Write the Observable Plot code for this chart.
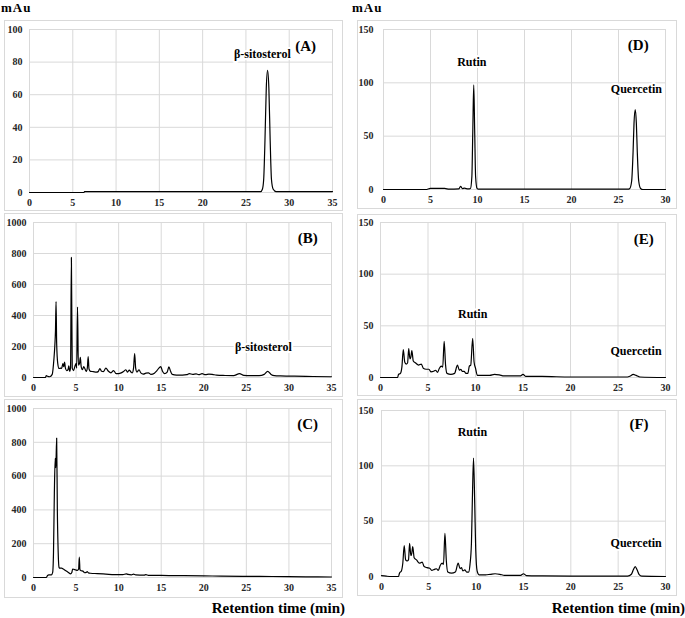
<!DOCTYPE html>
<html><head><meta charset="utf-8">
<script src="https://cdn.jsdelivr.net/npm/d3@7"></script>
<script src="https://cdn.jsdelivr.net/npm/@observablehq/plot@0.6"></script>
<style>
body{margin:0;background:#fff;}
#wrap{position:relative;width:685px;height:618px;font-family:"Liberation Serif","Times New Roman",serif;overflow:hidden}
.panel{position:absolute;border:1px solid #d9d9d9;box-sizing:border-box;background:#fff}
.panel svg{position:absolute;left:0;top:0}
.txt{position:absolute;font-weight:bold;color:#000;white-space:nowrap;line-height:1}
</style></head><body><div id="wrap"></div>
<script>
// ---- tick labels ----
const xTicksLeft = [0, 5, 10, 15, 20, 25, 30, 35];
const xTicksRight = [0, 5, 10, 15, 20, 25, 30];
const yTicksA = [0, 20, 40, 60, 80, 100];
const yTicksBC = [0, 200, 400, 600, 800, 1000];
const yTicksDEF = [0, 50, 100, 150];

// ---- (A) beta-sitosterol standard ----
const timeA = [0, 6.3, 6.35, 26.7, 26.9, 27.05, 27.2, 27.35, 27.5, 27.65, 27.8, 27.95, 28.15, 28.5, 35];
const signalA = [0, 0, 0.5, 0.5, 2, 8, 32, 64, 75, 64, 32, 8, 2, 0.5, 0.5];

// ---- (B) extract, sterol method ----
const timeB = [0, 1.4, 1.5, 1.65, 1.9, 2.2, 2.4, 2.5, 2.58, 2.65, 2.72, 2.85, 3.0, 3.15, 3.3, 3.45, 3.55, 3.65, 3.75, 3.9, 4.05, 4.15, 4.25, 4.35, 4.45, 4.55, 4.7, 4.85, 5.0, 5.07, 5.17, 5.27, 5.4, 5.5, 5.6, 5.75, 5.9, 6.05, 6.2, 6.32, 6.42, 6.52, 6.7, 7.0, 7.4, 7.6, 7.8, 8.0, 8.2, 8.5, 8.8, 9.1, 9.4, 9.7, 10.0, 10.3, 10.6, 10.85, 11.05, 11.25, 11.45, 11.6, 11.75, 11.88, 12.0, 12.15, 12.4, 12.6, 12.9, 13.2, 13.5, 13.8, 14.2, 14.5, 14.8, 14.95, 15.15, 15.4, 15.7, 15.9, 16.1, 16.3, 16.8, 17.5, 18.0, 18.3, 18.7, 19.1, 19.4, 19.8, 20.2, 20.6, 21.0, 21.5, 22.5, 23.5, 24.2, 24.7, 25.5, 26.5, 27.1, 27.5, 27.9, 28.3, 29, 30, 32, 35];
const signalB = [0, 0, 12, 8, 5, 20, 120, 200, 300, 490, 220, 90, 58, 60, 58, 90, 70, 100, 60, 45, 50, 75, 40, 60, 775, 60, 45, 70, 90, 60, 455, 80, 90, 130, 70, 50, 70, 55, 40, 60, 135, 55, 40, 38, 35, 38, 58, 40, 38, 60, 40, 30, 45, 25, 25, 30, 40, 50, 35, 48, 35, 30, 60, 155, 60, 35, 50, 30, 22, 28, 30, 20, 28, 45, 65, 70, 40, 25, 35, 68, 40, 20, 15, 15, 18, 25, 20, 23, 18, 25, 18, 22, 20, 15, 13, 12, 25, 14, 12, 12, 20, 40, 20, 12, 10, 9, 7, 5];

// ---- (C) extract ----
const timeC = [0, 1.5, 1.65, 1.8, 2.1, 2.25, 2.35, 2.45, 2.55, 2.62, 2.72, 2.8, 2.9, 3.0, 3.1, 3.3, 3.5, 3.8, 4.1, 4.35, 4.5, 4.6, 4.75, 4.95, 5.15, 5.3, 5.38, 5.46, 5.6, 5.8, 6.0, 6.2, 6.3, 6.45, 6.7, 7.5, 8.5, 9.5, 10.5, 10.9, 11.1, 11.5, 11.75, 12, 13, 13.2, 13.5, 15, 17, 20, 22, 25, 28, 32, 35];
const signalC = [0, 0, 12, 15, 15, 30, 150, 500, 705, 650, 825, 400, 150, 60, 55, 55, 50, 40, 30, 22, 30, 50, 48, 45, 42, 50, 120, 45, 40, 38, 28, 30, 35, 27, 25, 23, 20, 17, 17, 22, 18, 16, 20, 15, 14, 17, 13, 12, 11, 10, 8, 7, 6, 4, 3];

// ---- (D) rutin + quercetin standards ----
const timeD = [0, 4.5, 5, 6.5, 7, 8.0, 8.2, 8.4, 8.6, 9.0, 9.25, 9.4, 9.5, 9.6, 9.7, 9.8, 9.95, 10.1, 26.0, 26.2, 26.4, 26.55, 26.65, 26.78, 26.9, 27.0, 27.15, 27.35, 27.6, 30];
const signalD = [0, 0, 1, 1, 0.3, 0.5, 3, 0.8, 1.2, 0.5, 1, 12, 55, 98, 55, 12, 1, 0.3, 0.3, 1, 8, 35, 62, 75, 62, 35, 8, 1, 0, 0];

// ---- (E) extract ----
const timeE = [0, 1.8, 1.9, 2.1, 2.25, 2.4, 2.55, 2.7, 2.85, 2.97, 3.1, 3.2, 3.3, 3.45, 3.7, 4.0, 4.3, 4.5, 4.8, 5.1, 5.3, 5.6, 5.8, 6.0, 6.2, 6.4, 6.55, 6.7, 6.85, 7.0, 7.4, 7.8, 8.1, 8.3, 8.45, 8.6, 8.8, 9.0, 9.2, 9.35, 9.5, 9.7, 9.85, 10.0, 10.2, 10.8, 11.5, 12.0, 12.5, 13, 14, 14.7, 15, 15.3, 17, 20, 26, 26.3, 26.6, 26.9, 27.3, 30];
const signalE = [0, 0, 3, 4, 10, 27, 15, 13, 14, 28, 18, 20, 26, 16, 14, 12, 13, 9, 8, 8, 5.5, 6, 7, 5, 9, 11, 10, 35, 12, 4, 3, 4, 12, 7, 8, 6, 6, 4, 4, 11, 12, 38, 15, 9, 2, 2, 2, 3, 2.5, 1.5, 1.5, 1.5, 3, 1, 1, 0.5, 0.5, 1.5, 3, 2, 0.5, 0];

// ---- (F) extract ----
const timeF = [0, 0.5, 1.0, 1.8, 1.9, 2.1, 2.25, 2.4, 2.55, 2.7, 2.85, 2.97, 3.1, 3.2, 3.3, 3.45, 3.7, 4.0, 4.3, 4.5, 4.8, 5.1, 5.3, 5.6, 5.8, 6.0, 6.2, 6.4, 6.55, 6.7, 6.85, 7.0, 7.4, 7.8, 8.1, 8.3, 8.45, 8.6, 8.8, 9.0, 9.2, 9.35, 9.5, 9.6, 9.72, 9.85, 9.95, 10.1, 10.3, 11, 11.5, 12, 12.5, 13, 14.7, 15, 15.3, 17, 20, 26, 26.4, 26.6, 26.8, 27.0, 27.2, 27.5, 30];
const signalF = [0.8, 0.3, 0, 0, 3, 5, 12, 28, 15, 14, 15, 30, 19, 21, 27, 17, 15, 12, 13, 9, 8, 7.5, 5.5, 6.5, 7, 5.5, 10, 12, 11, 39, 14, 4, 3, 4, 12, 7, 8, 5, 6, 4, 4, 11, 30, 70, 107, 65, 25, 5, 1.5, 1.5, 2, 2.5, 2, 1, 1, 2.5, 0.8, 0.5, 0.3, 0.3, 2, 6, 9, 6, 2, 0.3, 0];

// ---- annotations (data coordinates) ----
const labelsA = [{x: 26.9, y: 85, text: "β-sitosterol", big: false}, {x: 31.9, y: 90, text: "(A)", big: true}];
const labelsB = [{x: 27.0, y: 195, text: "β-sitosterol", big: false}, {x: 32.2, y: 897, text: "(B)", big: true}];
const labelsC = [{x: 32.2, y: 906, text: "(C)", big: true}];
const labelsD = [{x: 9.4, y: 119, text: "Rutin", big: false}, {x: 26.9, y: 94, text: "Quercetin", big: false}, {x: 27.1, y: 135, text: "(D)", big: true}];
const labelsE = [{x: 9.7, y: 61, text: "Rutin", big: false}, {x: 26.9, y: 25.5, text: "Quercetin", big: false}, {x: 27.7, y: 134, text: "(E)", big: true}];
const labelsF = [{x: 9.6, y: 130, text: "Rutin", big: false}, {x: 26.9, y: 30, text: "Quercetin", big: false}, {x: 27.2, y: 138, text: "(F)", big: true}];

const zip = (t, v) => t.map((d, i) => ({t: d, v: v[i]}));

const panels = [
  {frame: [4, 20, 339, 191], m: [8, 10, 18, 24], xd: [0, 35], xt: xTicksLeft, yd: [0, 100], yt: yTicksA, data: zip(timeA, signalA), labels: labelsA, ypad: 7},
  {frame: [4, 213, 339, 184], m: [8, 11, 19, 28], xd: [0, 35], xt: xTicksLeft, yd: [0, 1000], yt: yTicksBC, data: zip(timeB, signalB), labels: labelsB, ypad: 7},
  {frame: [4, 399, 339, 199], m: [8, 11, 20, 28], xd: [0, 35], xt: xTicksLeft, yd: [0, 1000], yt: yTicksBC, data: zip(timeC, signalC), labels: labelsC, ypad: 7},
  {frame: [357, 20, 320, 189], m: [8, 11, 19, 25], xd: [0, 30], xt: xTicksRight, yd: [0, 150], yt: yTicksDEF, data: zip(timeD, signalD), labels: labelsD, ypad: 10},
  {frame: [357, 214, 320, 182], m: [7, 11, 18, 22], xd: [0, 30], xt: xTicksRight, yd: [0, 150], yt: yTicksDEF, data: zip(timeE, signalE), labels: labelsE, ypad: 7},
  {frame: [357, 399, 320, 197], m: [10, 11, 19, 23], xd: [0, 30], xt: xTicksRight, yd: [0, 150], yt: yTicksDEF, data: zip(timeF, signalF), labels: labelsF, ypad: 8}
];

const wrap = document.getElementById("wrap");

for (const p of panels) {
  const [fx, fy, fw, fh] = p.frame;
  const div = document.createElement("div");
  div.className = "panel";
  Object.assign(div.style, {left: fx + "px", top: fy + "px", width: fw + "px", height: fh + "px"});
  const chart = Plot.plot({
    width: fw - 2,
    height: fh - 2,
    marginTop: p.m[0], marginRight: p.m[1], marginBottom: p.m[2], marginLeft: p.m[3],
    style: {fontFamily: "'Liberation Serif', 'Times New Roman', serif", fontWeight: "bold", fontSize: "10px", color: "#262626", background: "transparent", overflow: "visible"},
    x: {domain: p.xd},
    y: {domain: p.yd},
    marks: [
      Plot.gridX(p.xt, {stroke: "#d9d9d9", strokeOpacity: 1, strokeWidth: 1}),
      Plot.gridY(p.yt, {stroke: "#d9d9d9", strokeOpacity: 1, strokeWidth: 1}),
      Plot.axisX({ticks: p.xt, tickSize: 0, tickPadding: 6, label: null, tickFormat: d3.format("d")}),
      Plot.axisY({ticks: p.yt, tickSize: 0, tickPadding: p.ypad, label: null, tickFormat: d3.format("d")}),
      Plot.line(p.data, {x: "t", y: "v", curve: "monotone-x", stroke: "#000", strokeWidth: 1.2}),
      Plot.text(p.labels.filter(d => !d.big), {x: "x", y: "y", text: "text", fontSize: 12, fontWeight: "bold", fill: "#000", stroke: "#fff", strokeWidth: 4}),
      Plot.text(p.labels.filter(d => d.big), {x: "x", y: "y", text: "text", fontSize: 15, fontWeight: "bold", fill: "#000"})
    ]
  });
  div.appendChild(chart);
  wrap.appendChild(div);
}

function addText(str, css) {
  const s = document.createElement("div");
  s.className = "txt";
  s.textContent = str;
  Object.assign(s.style, css);
  wrap.appendChild(s);
}
addText("mAu", {left: "1px", top: "1px", fontSize: "13px", letterSpacing: "1px"});
addText("mAu", {left: "352px", top: "1px", fontSize: "13px", letterSpacing: "1px"});
addText("Retention time (min)", {right: "340px", top: "601px", fontSize: "15px"});
addText("Retention time (min)", {right: "0px", top: "601px", fontSize: "15px"});
</script></body></html>
